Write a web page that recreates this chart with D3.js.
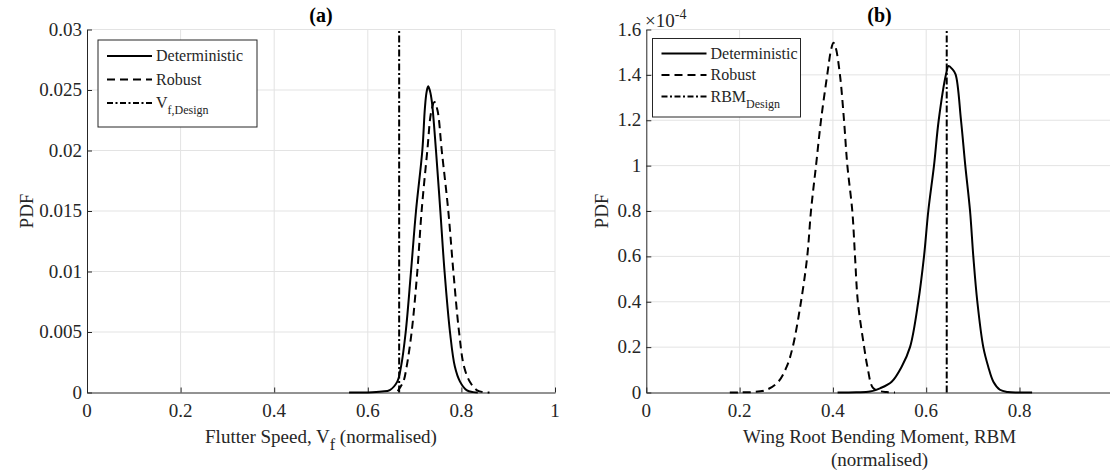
<!DOCTYPE html>
<html>
<head>
<meta charset="utf-8">
<script src="https://cdn.jsdelivr.net/npm/d3@7"></script>
<style>
  body { margin: 0; background: #fff; }
  svg { display: block; font-family: "Liberation Serif", "Times New Roman", serif; }
  .grid line { stroke: #e3e3e3; stroke-width: 1; }
  .ax-lbl { fill: #262626; font-size: 19px; }
  .leg text { fill: #262626; font-size: 16px; }
</style>
</head>
<body>
<script>
// ---- data ----
// panel (a): flutter speed (normalised) vs PDF
var aXTicks = [0, 0.2, 0.4, 0.6, 0.8, 1];
var aYTicks = [0, 0.005, 0.01, 0.015, 0.02, 0.025, 0.03];
var aDeterministic = [
  [0.560, 0], [0.600, 0.00001], [0.630, 0.00008], [0.647, 0.0002], [0.663, 0.0009],
  [0.671, 0.00214], [0.681, 0.005], [0.6923, 0.010], [0.703, 0.015], [0.7165, 0.020],
  [0.722, 0.0235], [0.7255, 0.0248], [0.729, 0.0253], [0.733, 0.0249], [0.737, 0.0240],
  [0.7457, 0.020], [0.755, 0.015], [0.764, 0.010], [0.7756, 0.005], [0.786, 0.00214],
  [0.797, 0.0009], [0.811, 0.0002], [0.825, 0.00003], [0.835, 0]
];
var aRobust = [
  [0.664, 0.0001], [0.667, 0.0003], [0.676, 0.00089], [0.683, 0.00214], [0.6937, 0.005],
  [0.7058, 0.010], [0.715, 0.015], [0.7272, 0.020], [0.7355, 0.0232], [0.7425, 0.0240],
  [0.749, 0.0233], [0.758, 0.020], [0.772, 0.015], [0.7828, 0.010], [0.795, 0.005],
  [0.8056, 0.00214], [0.818, 0.00089], [0.8326, 0.0002], [0.845, 0.00004], [0.86, 0]
];
var aDesign = 0.667;

// panel (b): wing root bending moment (normalised) vs PDF (x 1e-4)
var bXTicks = [0, 0.2, 0.4, 0.6, 0.8];
var bYTicks = [0, 0.2, 0.4, 0.6, 0.8, 1, 1.2, 1.4, 1.6];
var bDeterministic = [
  [0.41, 0], [0.45, 0.001], [0.4795, 0.004], [0.501, 0.0185], [0.526, 0.0476],
  [0.5474, 0.1138], [0.5653, 0.2], [0.583, 0.4], [0.5953, 0.6], [0.6045, 0.8],
  [0.6167, 1.0], [0.6268, 1.2], [0.6425, 1.4025], [0.648, 1.439], [0.656, 1.425],
  [0.663, 1.4025], [0.6746, 1.2], [0.6838, 1.0], [0.694, 0.8], [0.701, 0.6],
  [0.7096, 0.4], [0.7224, 0.2], [0.733, 0.1138], [0.744, 0.0476], [0.758, 0.012],
  [0.775, 0.002], [0.80, 0.0003], [0.827, 0]
];
var bRobust = [
  [0.179, 0], [0.20, 0.0005], [0.229, 0.002], [0.258, 0.012], [0.283, 0.0476],
  [0.301, 0.1138], [0.3138, 0.2], [0.3316, 0.4], [0.345, 0.6], [0.353, 0.8],
  [0.3638, 1.0], [0.3745, 1.2], [0.388, 1.4025], [0.396, 1.51], [0.401, 1.542],
  [0.406, 1.52], [0.415, 1.4025], [0.4238, 1.2], [0.431, 1.0], [0.4416, 0.8],
  [0.4474, 0.6], [0.4535, 0.4], [0.467, 0.2], [0.474, 0.1138], [0.486, 0.02],
  [0.501, 0.006], [0.515, 0.002], [0.533, 0]
];
var bDesign = 0.644;

var svg = d3.select("body").append("svg")
  .attr("width", 1110).attr("height", 472);

var solid = null, dashed = "8,5", dashDot = "7,2.5,2,2.5";
var fmt = d3.format("~g");

function drawPanel(p) {
  var x = d3.scaleLinear().domain([0, 1]).range([p.left, p.right]);
  var y = d3.scaleLinear().domain([0, p.yMax]).range([392.5, 29.5]);
  var g = svg.append("g");

  // grid
  var grid = g.append("g").attr("class", "grid");
  grid.selectAll(".gx").data(p.xTicks.filter(function(d) { return d > 0; }))
    .enter().append("line")
    .attr("x1", function(d) { return x(d); }).attr("x2", function(d) { return x(d); })
    .attr("y1", y(0)).attr("y2", y(p.yMax));
  grid.selectAll(".gy").data(p.yTicks.filter(function(d) { return d > 0; }))
    .enter().append("line")
    .attr("x1", x(0)).attr("x2", x(1))
    .attr("y1", function(d) { return y(d); }).attr("y2", function(d) { return y(d); });

  // axes: lines and inward ticks from d3, labels as plain serif text
  var xa = g.append("g").attr("transform", "translate(0," + y(0) + ")")
    .call(d3.axisBottom(x).tickValues(p.xTicks).tickSizeInner(-5).tickSizeOuter(0).tickFormat(""));
  var ya = g.append("g").attr("transform", "translate(" + x(0) + ",0)")
    .call(d3.axisLeft(y).tickValues(p.yTicks).tickSizeInner(-5).tickSizeOuter(0).tickFormat(""));
  [xa, ya].forEach(function(a) {
    a.select(".domain").attr("stroke", "#262626").attr("stroke-width", 1);
    a.selectAll(".tick line").attr("stroke", "#262626");
  });
  g.selectAll(".xl").data(p.xTicks).enter().append("text")
    .attr("class", "ax-lbl").attr("text-anchor", "middle")
    .attr("x", function(d) { return x(d); }).attr("y", y(0) + 24)
    .text(fmt);
  g.selectAll(".yl").data(p.yTicks).enter().append("text")
    .attr("class", "ax-lbl").attr("text-anchor", "end")
    .attr("x", x(0) - 5).attr("y", function(d) { return y(d) + 6; })
    .text(fmt);

  // curves
  var line = d3.line()
    .x(function(d) { return x(d[0]); })
    .y(function(d) { return y(d[1]); })
    .curve(d3.curveCatmullRom.alpha(0.5));
  g.append("path").datum(p.det).attr("d", line)
    .attr("fill", "none").attr("stroke", "#000").attr("stroke-width", 2);
  g.append("path").datum(p.rob).attr("d", line)
    .attr("fill", "none").attr("stroke", "#000").attr("stroke-width", 2)
    .attr("stroke-dasharray", dashed);
  g.append("line")
    .attr("x1", x(p.design)).attr("x2", x(p.design))
    .attr("y1", y(0)).attr("y2", y(p.yMax))
    .attr("stroke", "#000").attr("stroke-width", 2)
    .attr("stroke-dasharray", dashDot);

  // title
  g.append("text").attr("x", (p.left + p.right) / 2).attr("y", 22)
    .attr("text-anchor", "middle").attr("font-weight", "bold").attr("font-size", 20)
    .attr("fill", "#000").text(p.title);

  // y label
  g.append("text").attr("class", "ax-lbl")
    .attr("transform", "translate(" + p.yLabX + "," + (y(0) + y(p.yMax)) / 2 + ") rotate(-90)")
    .attr("text-anchor", "middle").attr("dy", "0.35em").text("PDF");

  // x label
  p.xLabel(g, (p.left + p.right) / 2);

  // legend
  var leg = g.append("g").attr("class", "leg");
  leg.append("rect")
    .attr("x", p.leg.x).attr("y", p.leg.y).attr("width", p.leg.w).attr("height", p.leg.h)
    .attr("fill", "#fff").attr("stroke", "#262626").attr("stroke-width", 1);
  var items = [
    { dash: solid, name: "Deterministic" },
    { dash: dashed, name: "Robust" },
    { dash: "6,2.5,2,2.5", name: p.designName, sub: p.designSub }
  ];
  items.forEach(function(it, i) {
    var cy = p.leg.y + p.leg.row0 + i * p.leg.step;
    leg.append("line")
      .attr("x1", p.leg.x + 9).attr("x2", p.leg.x + 54)
      .attr("y1", cy).attr("y2", cy)
      .attr("stroke", "#000").attr("stroke-width", 2)
      .attr("stroke-dasharray", it.dash);
    var t = leg.append("text").attr("x", p.leg.x + 58).attr("y", cy + 5).text(it.name);
    if (it.sub) {
      t.append("tspan").attr("dy", 6).attr("font-size", 12).text(it.sub);
    }
  });
}

drawPanel({
  title: "(a)", left: 87, right: 555, yMax: 0.03,
  xTicks: aXTicks, yTicks: aYTicks, det: aDeterministic, rob: aRobust, design: aDesign,
  yLabX: 26, designName: "V", designSub: "f,Design",
  leg: { x: 98, y: 40, w: 159, h: 87, row0: 16, step: 23.5 },
  xLabel: function(g, cx) {
    var t = g.append("text").attr("class", "ax-lbl").attr("x", cx).attr("y", 443)
      .attr("text-anchor", "middle");
    t.append("tspan").text("Flutter Speed, V");
    t.append("tspan").attr("dy", 7).attr("font-size", 16).text("f");
    t.append("tspan").attr("dy", -7).text(" (normalised)");
  }
});

drawPanel({
  title: "(b)", left: 646.3, right: 1112.8, yMax: 1.6,
  xTicks: bXTicks, yTicks: bYTicks, det: bDeterministic, rob: bRobust, design: bDesign,
  yLabX: 601, designName: "RBM", designSub: "Design",
  leg: { x: 652.5, y: 38.5, w: 148, h: 78.5, row0: 15, step: 21.5 },
  xLabel: function(g, cx) {
    g.append("text").attr("class", "ax-lbl").attr("x", cx).attr("y", 443)
      .attr("text-anchor", "middle").text("Wing Root Bending Moment, RBM");
    g.append("text").attr("class", "ax-lbl").attr("x", cx).attr("y", 466)
      .attr("text-anchor", "middle").text("(normalised)");
  }
});

// exponent label of panel (b)
var expo = svg.append("text").attr("class", "ax-lbl").attr("x", 645).attr("y", 27)
  .attr("font-size", 20);
expo.append("tspan").text("\u00d710");
expo.append("tspan").attr("dy", -8).attr("font-size", 14).text("-4");
</script>
</body>
</html>
